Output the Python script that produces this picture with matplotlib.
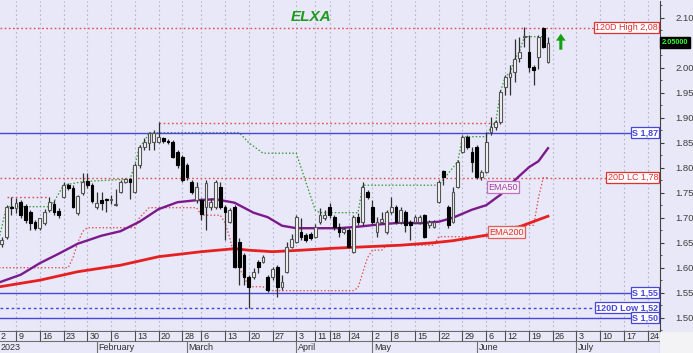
import numpy as np
import matplotlib.pyplot as plt
from matplotlib.patches import Rectangle

plt.rcParams['font.family'] = ['Liberation Sans', 'DejaVu Sans']

# daily candles, 4 Jan 2023 .. 23 Jun 2023 (trading days only)
opens = [1.647, 1.662, 1.722, 1.719, 1.732, 1.723, 1.712, 1.692, 1.679, 1.690,
         1.715, 1.727, 1.713, 1.742, 1.765, 1.759, 1.709, 1.749, 1.773, 1.765,
         1.722, 1.735, 1.738, 1.735, 1.725, 1.752, 1.772, 1.777, 1.752, 1.805,
         1.842, 1.849, 1.852, 1.852, 1.860, 1.854, 1.852, 1.832, 1.822, 1.805,
         1.772, 1.735, 1.735, 1.722, 1.722, 1.722, 1.762, 1.722, 1.692, 1.722,
         1.652, 1.625, 1.582, 1.582, 1.612, 1.612, 1.582, 1.582, 1.602, 1.562,
         1.592, 1.642, 1.652, 1.672, 1.665, 1.668, 1.662, 1.692, 1.700, 1.722,
         1.702, 1.682, 1.672, 1.675, 1.632, 1.702, 1.692, 1.752, 1.722, 1.672,
         1.692, 1.672, 1.712, 1.722, 1.692, 1.712, 1.692, 1.692, 1.692, 1.705,
         1.685, 1.682, 1.732, 1.793, 1.722, 1.692, 1.762, 1.832, 1.862, 1.832,
         1.842, 1.782, 1.792, 1.872, 1.882, 1.892, 1.962, 1.982, 1.992, 2.020,
         2.062, 2.032, 2.002, 2.022, 2.080, 2.012]
highs = [1.662, 1.725, 1.742, 1.740, 1.735, 1.728, 1.715, 1.695, 1.700, 1.718,
         1.742, 1.735, 1.720, 1.772, 1.770, 1.765, 1.745, 1.789, 1.789, 1.770,
         1.752, 1.752, 1.740, 1.745, 1.758, 1.775, 1.780, 1.780, 1.810, 1.845,
         1.860, 1.872, 1.875, 1.892, 1.862, 1.858, 1.855, 1.835, 1.825, 1.810,
         1.775, 1.772, 1.740, 1.775, 1.740, 1.775, 1.772, 1.725, 1.720, 1.725,
         1.660, 1.630, 1.585, 1.600, 1.615, 1.625, 1.585, 1.602, 1.605, 1.585,
         1.652, 1.668, 1.705, 1.700, 1.670, 1.672, 1.688, 1.720, 1.715, 1.730,
         1.705, 1.690, 1.682, 1.680, 1.705, 1.710, 1.772, 1.755, 1.735, 1.702,
         1.712, 1.715, 1.742, 1.725, 1.722, 1.715, 1.695, 1.705, 1.705, 1.708,
         1.695, 1.695, 1.775, 1.795, 1.725, 1.762, 1.815, 1.865, 1.865, 1.842,
         1.845, 1.795, 1.872, 1.902, 1.895, 1.955, 1.985, 2.005, 2.058, 2.062,
         2.082, 2.065, 2.005, 2.065, 2.082, 2.062]
lows = [1.642, 1.658, 1.705, 1.710, 1.700, 1.690, 1.675, 1.675, 1.675, 1.686,
        1.712, 1.705, 1.700, 1.740, 1.755, 1.720, 1.705, 1.745, 1.760, 1.730,
        1.718, 1.715, 1.712, 1.728, 1.723, 1.750, 1.770, 1.738, 1.750, 1.800,
        1.835, 1.835, 1.835, 1.850, 1.850, 1.848, 1.820, 1.800, 1.772, 1.775,
        1.748, 1.730, 1.695, 1.675, 1.715, 1.718, 1.718, 1.655, 1.690, 1.600,
        1.565, 1.565, 1.520, 1.578, 1.590, 1.610, 1.552, 1.575, 1.542, 1.555,
        1.590, 1.640, 1.650, 1.655, 1.652, 1.655, 1.660, 1.688, 1.695, 1.700,
        1.675, 1.662, 1.668, 1.640, 1.630, 1.685, 1.685, 1.738, 1.688, 1.662,
        1.688, 1.668, 1.708, 1.688, 1.688, 1.672, 1.655, 1.690, 1.688, 1.660,
        1.680, 1.680, 1.730, 1.765, 1.680, 1.690, 1.760, 1.830, 1.838, 1.792,
        1.778, 1.775, 1.790, 1.865, 1.875, 1.888, 1.945, 1.945, 1.972, 2.012,
        2.042, 1.992, 1.965, 1.998, 2.040, 2.010]
closes = [1.656, 1.722, 1.720, 1.730, 1.705, 1.695, 1.690, 1.680, 1.699, 1.712,
          1.732, 1.712, 1.705, 1.765, 1.760, 1.722, 1.743, 1.772, 1.765, 1.734,
          1.729, 1.730, 1.735, 1.736, 1.725, 1.772, 1.777, 1.772, 1.805, 1.842,
          1.852, 1.870, 1.870, 1.862, 1.854, 1.852, 1.822, 1.805, 1.775, 1.782,
          1.752, 1.761, 1.708, 1.769, 1.732, 1.772, 1.722, 1.712, 1.715, 1.602,
          1.602, 1.582, 1.562, 1.592, 1.602, 1.622, 1.555, 1.598, 1.562, 1.572,
          1.642, 1.658, 1.702, 1.662, 1.655, 1.660, 1.682, 1.705, 1.705, 1.705,
          1.682, 1.672, 1.678, 1.642, 1.702, 1.692, 1.762, 1.742, 1.692, 1.692,
          1.698, 1.712, 1.722, 1.692, 1.715, 1.685, 1.685, 1.702, 1.702, 1.662,
          1.692, 1.692, 1.772, 1.782, 1.685, 1.752, 1.812, 1.862, 1.842, 1.812,
          1.782, 1.792, 1.852, 1.882, 1.892, 1.952, 1.982, 1.990, 2.018, 2.032,
          2.062, 2.002, 1.995, 2.062, 2.042, 2.050]

# moving averages read at some candle positions
ema50_idx = [-1, 4, 8, 12, 16, 21, 25, 29, 33, 37, 41, 45, 49, 51, 53, 56, 59, 62,
             66, 71, 75, 80, 84, 88, 92, 95, 99, 102, 105, 108, 111, 113, 115]
ema50_val = [1.569, 1.586, 1.609, 1.628, 1.648, 1.664, 1.673, 1.692, 1.717, 1.731,
             1.735, 1.737, 1.730, 1.720, 1.710, 1.701, 1.684, 1.679, 1.679, 1.679,
             1.682, 1.687, 1.690, 1.689, 1.692, 1.700, 1.716, 1.725, 1.746, 1.775,
             1.801, 1.813, 1.839]
ema200_idx = [-1, 8, 16, 25, 33, 42, 49, 52, 57, 63, 70, 77, 84, 91, 95, 102, 109, 115]
ema200_val = [1.561, 1.575, 1.592, 1.605, 1.622, 1.632, 1.638, 1.635, 1.632, 1.635,
              1.639, 1.642, 1.645, 1.650, 1.654, 1.665, 1.682, 1.703]

# trailing stop lines (dotted)
hc_idx = [-1, 1, 10, 11, 13, 17, 26, 27, 28, 29, 30, 31, 50, 52, 55, 62, 66, 67,
          75, 76, 92, 96, 97, 102, 103, 104, 105, 106, 107, 108, 109, 110, 114]
hc_val = [1.640, 1.722, 1.722, 1.732, 1.765, 1.772, 1.777, 1.777, 1.805, 1.842,
          1.852, 1.870, 1.870, 1.850, 1.829, 1.829, 1.715, 1.710, 1.710, 1.765,
          1.765, 1.812, 1.862, 1.862, 1.882, 1.892, 1.952, 1.982, 1.990, 2.018,
          2.032, 2.062, 2.062]
lc_idx = [-1, 14, 15, 16, 17, 18, 28, 29, 31, 41, 42, 46, 47, 48, 49, 50, 51, 52,
          55, 56, 74, 75, 76, 77, 78, 80, 81, 91, 92, 105, 106, 112, 113, 114, 115]
lc_val = [1.600, 1.600, 1.620, 1.650, 1.672, 1.680, 1.680, 1.700, 1.720, 1.720,
          1.705, 1.705, 1.690, 1.660, 1.620, 1.600, 1.582, 1.562, 1.562, 1.554,
          1.554, 1.560, 1.590, 1.620, 1.635, 1.635, 1.645, 1.645, 1.662, 1.662,
          1.682, 1.685, 1.740, 1.780, 1.780]
hh_segments = [(1, 10, 1.742), (33, 103, 1.890)]

# support / resistance levels
levels = [2.08, 1.87, 1.78, 1.55, 1.52, 1.50]
level_text = ['120D High 2,08', 'S 1,87', '20D LC 1,78', 'S 1,55', '120D Low 1,52', 'S 1,50']
level_kind = ['hi', 'S', 'lc', 'S', 'lo', 'S']

# date axis
day_pos = [-2, 3, 8, 13, 18, 23, 28, 33, 38, 42, 47, 52, 57, 62, 66, 69, 73, 78, 82,
           87, 92, 97, 102, 106, 111, 116, 121, 126, 131, 136]
day_lab = ['2', '9', '16', '23', '30', '6', '13', '20', '28', '6', '13', '20', '27',
           '3', '11', '18', '24', '2', '8', '15', '22', '29', '6', '12', '19', '26',
           '3', '10', '17', '24']
month_pos = [20, 39, 62, 78, 100, 121]
month_lab = ['February', 'March', 'April', 'May', 'June', 'July']

last_price = 2.05

W, H = 693, 353
bg = '#e8e8f8'
fig = plt.figure(figsize=(W / 100, H / 100), dpi=100, facecolor='#f3f3f5')
fig.patches.append(Rectangle((0, 22 / H), 1, 1, transform=fig.transFigure,
                             color=bg, zorder=-10))

ax = fig.add_axes([0, 22 / H, 660 / W, 330 / H], facecolor=bg)
xlim = (-0.37, 138.58)
ax.set_xlim(*xlim)
ax.set_ylim(1.4734, 2.1334)

# vertical week grid
for p in day_pos:
    ax.axvline(p, color='#b4b4c8', lw=0.8, ls=(0, (1.5, 2.5)), zorder=0)

# trailing lines (under the level lines)
ax.plot(hc_idx, hc_val, color='#2f9a2f', lw=0.9, ls=(0, (1.2, 1.6)), zorder=0.5)
ax.plot(lc_idx, lc_val, color='#e05050', lw=0.9, ls=(0, (1.2, 1.6)), zorder=0.5)

# level lines
blue = '#4646dc'
red = '#e05050'
for y, t, k in zip(levels, level_text, level_kind):
    if k == 'S':
        ax.axhline(y, color=blue, lw=1.0, zorder=1)
        col, fw = blue, 'bold'
    elif k == 'lo':
        ax.axhline(y, color=blue, lw=1.0, ls=(0, (2, 2)), zorder=1)
        col, fw = blue, 'bold'
    else:
        ax.axhline(y, color=red, lw=1.0, ls=(0, (1.2, 1.8)), zorder=1)
        col, fw = '#e03030', 'normal'
    ax.text(0.997, y, t, transform=ax.get_yaxis_transform(), ha='right', va='center',
            fontsize=6.5, color=col, fontweight=fw, zorder=8,
            bbox=dict(boxstyle='square,pad=0.12', fc='white', ec=col, lw=0.9))

for a, b, y in hh_segments:
    ax.plot([a, b], [y, y], color=red, lw=1.0, ls=(0, (1.2, 1.8)), zorder=1)

# EMAs
ax.plot(ema200_idx, ema200_val, color='#e62020', lw=2.0, zorder=2)
ax.plot(ema50_idx, ema50_val, color='#7c1a8c', lw=1.7, zorder=2)
ax.text(105.5, 1.761, 'EMA50', ha='center', va='center', fontsize=6.5, color='#a040a0',
        zorder=8, bbox=dict(boxstyle='square,pad=0.15', fc='#f4eef8', ec='#c070c0', lw=0.9))
ax.text(106.2, 1.671, 'EMA200', ha='center', va='center', fontsize=6.5, color='#e03030',
        zorder=8, bbox=dict(boxstyle='square,pad=0.15', fc='#f8eeee', ec='#e06060', lw=0.9))

# candles
o = np.array(opens)
hi = np.array(highs)
lo = np.array(lows)
c = np.array(closes)
x = np.arange(len(o))
up = c >= o
ax.vlines(x, lo, hi, color='#303030', lw=0.9, zorder=4)
body_lo = np.minimum(o, c)
body_h = np.maximum(np.abs(c - o), 0.002)
ax.bar(x[up], body_h[up], bottom=body_lo[up], width=0.62, color='#f4f4f4',
       edgecolor='#555555', lw=0.8, zorder=5)
ax.bar(x[~up], body_h[~up], bottom=body_lo[~up], width=0.62, color='black',
       edgecolor='black', lw=0.8, zorder=5)

# title and signal arrow
ax.text(0.471, 0.952, 'ELXA', transform=ax.transAxes, ha='center', va='center',
        fontsize=11, fontweight='bold', fontstyle='italic', color='#1e9a1e')
ax.annotate('', xy=(117.7, 2.068), xytext=(117.7, 2.036),
            arrowprops=dict(width=2.2, headwidth=7, headlength=5, color='#13a013', lw=0))

# right price axis
ax.yaxis.tick_right()
yt = np.round(np.arange(1.50, 2.1001, 0.05), 2)
ax.set_yticks(yt)
ax.set_yticklabels(['' if abs(v - last_price) < 1e-6 else '%.2f' % v for v in yt])
ax.set_yticks(np.round(np.arange(1.475, 2.13, 0.025), 3), minor=True)
ax.tick_params(axis='y', which='major', length=3, width=0.8, pad=8, labelsize=6.8,
               colors='#404040')
ax.tick_params(axis='y', which='minor', length=1.5, width=0.6, colors='#404040')
ax.set_xticks([])
for s in ['left', 'top']:
    ax.spines[s].set_visible(False)
ax.spines['right'].set_color('#404040')
ax.spines['bottom'].set_color('#505050')

ax.text(1.003, last_price, '2.05000', transform=ax.get_yaxis_transform(), ha='left',
        va='center', fontsize=5.3, color='#30ff30', fontweight='bold', clip_on=False,
        zorder=9, bbox=dict(boxstyle='square,pad=0.25', fc='black', ec='black'))

# date strip
axd = fig.add_axes([0, 0, 660 / W, 22 / H], facecolor=bg)
axd.set_xlim(*xlim)
axd.set_ylim(0, 1)
axd.set_xticks([])
axd.set_yticks([])
for s in axd.spines.values():
    s.set_visible(False)
mid = 12 / 22
axd.axhline(1, color='#505050', lw=1.2)
axd.axhline(mid, color='#707070', lw=0.8)
axd.vlines(day_pos, mid, 1, color='#505050', lw=0.8)
axd.vlines(month_pos, 0, mid, color='#707070', lw=0.8)
axd.axvline(xlim[1], color='#505050', lw=0.8)
for p, t in zip(day_pos, day_lab):
    axd.text(max(p + 0.45, xlim[0] + 0.1), 0.76, t, fontsize=6.5, color='#303030',
             ha='left', va='center')
axd.text(xlim[0] + 0.1, 0.27, '2023', fontsize=6.5, color='#303030', ha='left', va='center')
for p, t in zip(month_pos, month_lab):
    axd.text(p + 0.35, 0.27, t, fontsize=6.5, color='#303030', ha='left', va='center')

fig.savefig('out.png', dpi=100, facecolor=fig.get_facecolor())
